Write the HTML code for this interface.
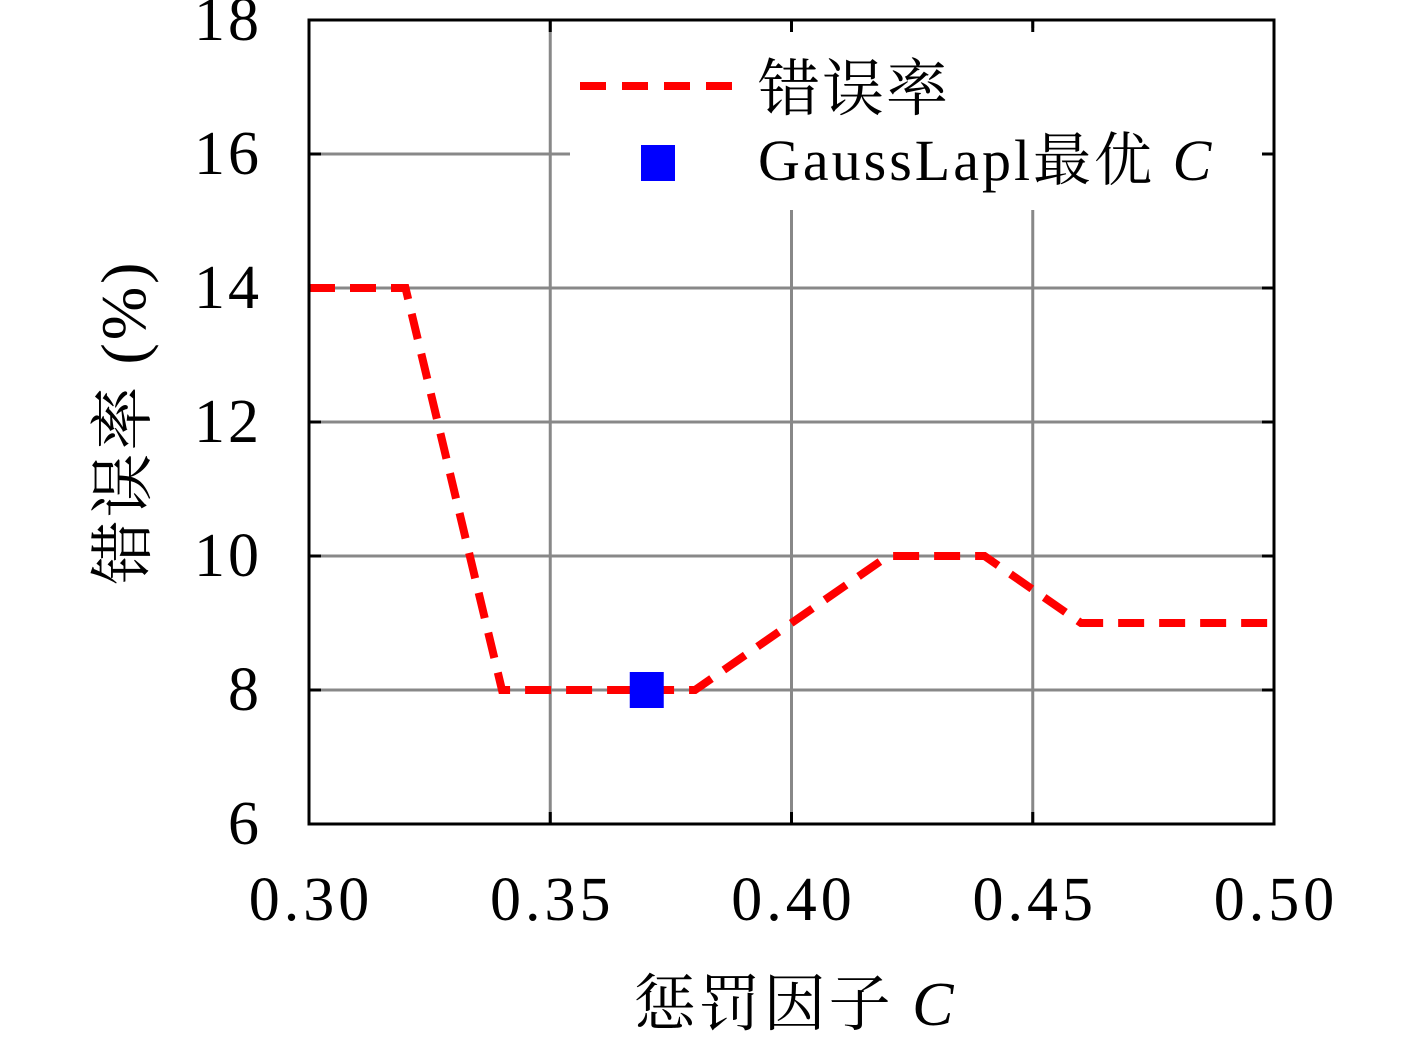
<!DOCTYPE html>
<html><head><meta charset="utf-8"><style>
body{margin:0;background:#fff;}
svg text{font-family:"Liberation Serif","Noto Serif CJK SC",serif;fill:#000;}
</style></head><body>
<svg id="chart" width="1417" height="1039" xmlns="http://www.w3.org/2000/svg">
<g id="grid"></g>
<rect x="570" y="28" width="692" height="182" fill="#fff"/>
<g id="ticks"></g>
<g id="series"></g>
<rect x="309" y="20" width="965" height="804" fill="none" stroke="#000" stroke-width="3"/>
<g>
<line x1="580" y1="86" x2="735" y2="86" stroke="#f00" stroke-width="8" stroke-dasharray="26,16"/>
<text x="758" y="110" font-size="62" letter-spacing="2">错误率</text>
<rect x="641" y="145" width="34" height="36" fill="#0000ff"/>
<text x="758" y="180" font-size="58" letter-spacing="3">GaussLapl最优 <tspan font-style="italic">C</tspan></text>
</g>
<text x="795" y="1025" font-size="62" letter-spacing="3" text-anchor="middle">惩罚因子 <tspan font-style="italic">C</tspan></text>
<text transform="translate(145,422) rotate(-90)" font-size="64" letter-spacing="3" text-anchor="middle">错误率 (%)</text>
<script>
const xTicks=[0.30,0.35,0.40,0.45,0.50];
const xTickLabels=["0.30","0.35","0.40","0.45","0.50"];
const yTicks=[6,8,10,12,14,16,18];
const yTickLabels=["6","8","10","12","14","16","18"];
const cValues=[0.30,0.32,0.34,0.38,0.40,0.42,0.44,0.46,0.50];
const errorValues=[14,14,8,8,9,10,10,9,9];
const bestC=[0.37];
const bestErr=[8];
const X=v=>309+(v-0.30)/0.20*965;
const Y=v=>824-(v-6)/12*804;
const NS="http://www.w3.org/2000/svg";
const grid=document.getElementById('grid'),ticks=document.getElementById('ticks'),series=document.getElementById('series'),svg=document.getElementById('chart');
function mk(tag,attrs,parent){const e=document.createElementNS(NS,tag);for(const k in attrs)e.setAttribute(k,attrs[k]);parent.appendChild(e);return e;}
xTicks.forEach((v,i)=>{
 const g=mk('line',{x1:X(v),x2:X(v),y1:20,y2:824,stroke:'#888','stroke-width':3},grid);
 
 
 [[824,812],[20,32]].forEach(p=>{const t=mk('line',{x1:X(v),x2:X(v),y1:p[0],y2:p[1],stroke:'#000','stroke-width':3},ticks);
 
 });
 const l=mk('text',{x:X(v)+2,y:920,'font-size':62,'letter-spacing':4,'text-anchor':'middle'},svg);
 l.textContent=xTickLabels[i];
 
 
});
yTicks.forEach((v,i)=>{
 const g=mk('line',{x1:309,x2:1274,y1:Y(v),y2:Y(v),stroke:'#888','stroke-width':3},grid);
 
 
 [[309,321],[1274,1262]].forEach(p=>{const t=mk('line',{x1:p[0],x2:p[1],y1:Y(v),y2:Y(v),stroke:'#000','stroke-width':3},ticks);
 
 });
 const l=mk('text',{x:262,y:Y(v)+20,'font-size':62,'letter-spacing':3,'text-anchor':'end'},svg);
 l.textContent=yTickLabels[i];
 
 
});
const pts=cValues.map((c,i)=>X(c)+','+Y(errorValues[i])).join(' ');
const line=mk('polyline',{points:pts,fill:'none',stroke:'#f00','stroke-width':8,'stroke-dasharray':'26,15'},series);


bestC.forEach((c,i)=>{
 const m=mk('rect',{x:X(c)-17,y:Y(bestErr[i])-18,width:34,height:36,fill:'#0000ff'},series);
 
 
});
</script>
</svg>
</body></html>
